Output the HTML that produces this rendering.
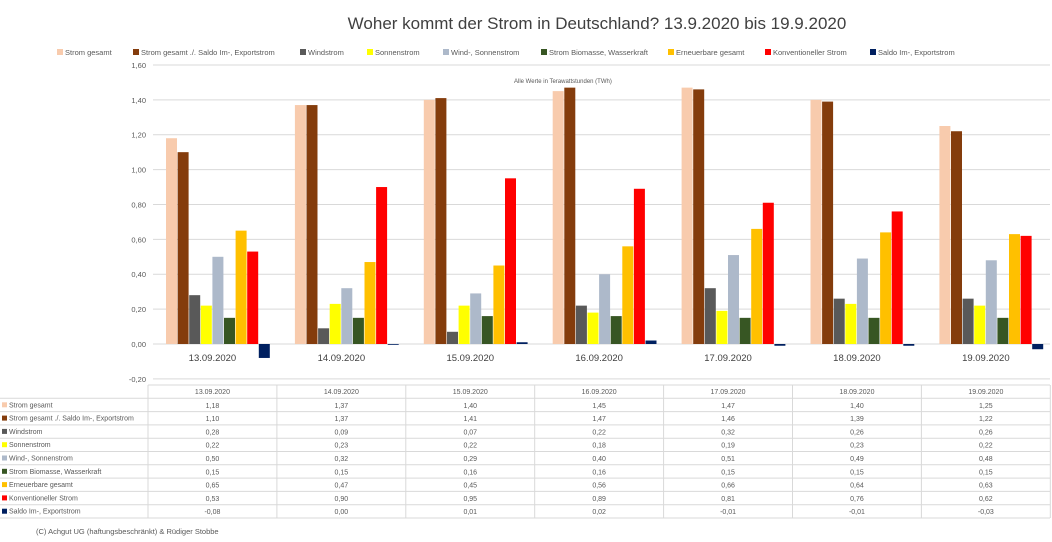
<!DOCTYPE html>
<html><head><meta charset="utf-8"><style>
body{margin:0;background:#fff;}
svg{display:block;font-family:"Liberation Sans",sans-serif;}
</style></head><body>
<svg id="s" width="1052" height="542" xmlns="http://www.w3.org/2000/svg"></svg>
<script>
const names=["Strom gesamt","Strom gesamt ./. Saldo Im-, Exportstrom","Windstrom","Sonnenstrom","Wind-, Sonnenstrom","Strom Biomasse, Wasserkraft","Erneuerbare gesamt","Konventioneller Strom","Saldo Im-, Exportstrom"];
const cols=["#f8cbad","#843c0c","#595959","#ffff00","#adb9ca","#375623","#ffc000","#ff0000","#002060"];
const dates=["13.09.2020","14.09.2020","15.09.2020","16.09.2020","17.09.2020","18.09.2020","19.09.2020"];
const d=[[1.18,1.37,1.40,1.45,1.47,1.40,1.25],[1.10,1.37,1.41,1.47,1.46,1.39,1.22],[0.28,0.09,0.07,0.22,0.32,0.26,0.26],[0.22,0.23,0.22,0.18,0.19,0.23,0.22],[0.50,0.32,0.29,0.40,0.51,0.49,0.48],[0.15,0.15,0.16,0.16,0.15,0.15,0.15],[0.65,0.47,0.45,0.56,0.66,0.64,0.63],[0.53,0.90,0.95,0.89,0.81,0.76,0.62],[-0.08,0.00,0.01,0.02,-0.01,-0.01,-0.03]];
let h='';
h+=`<text x="597" y="29" font-size="17" fill="#404040" text-anchor="middle">Woher kommt der Strom in Deutschland? 13.9.2020 bis 19.9.2020</text>`;
const lx=[57,133,300,367,443,541,668,765,870];
names.forEach((n,i)=>{h+=`<rect x="${lx[i]}" y="49" width="6" height="6" fill="${cols[i]}"/><text x="${lx[i]+8}" y="55" font-size="7.5" fill="#595959">${n}</text>`;});
const Y=v=>344-v*174.4;
for(let k=-1;k<=8;k++){const v=k*0.2,y=Y(v);h+=`<line x1="153" x2="1050" y1="${y}" y2="${y}" stroke="#d9d9d9" stroke-width="1"/><text x="146" y="${y+3}" font-size="7.5" fill="#595959" text-anchor="end">${v.toFixed(2).replace('.',',')}</text>`;}
h+=`<text x="514" y="83" font-size="6" fill="#595959">Alle Werte in Terawattstunden (TWh)</text>`;
const cw=128.9,x0=148;
dates.forEach((dt,c)=>{
 for(let i=0;i<9;i++){const v=d[i][c];const x=x0+c*cw+18+i*11.6;const y1=Y(Math.max(v,0)),y2=Y(Math.min(v,0));h+=`<rect x="${x}" y="${y1}" width="11" height="${Math.max(y2-y1,0.8)}" fill="${cols[i]}"/>`;}
 h+=`<text x="${x0+c*cw+cw/2}" y="361" font-size="9.5" fill="#404040" text-anchor="middle">${dt}</text>`;
});
// table
const ty=385,rh=13.3;
h+=`<line x1="148" x2="1050" y1="${ty}" y2="${ty}" stroke="#d9d9d9"/>`;
for(let r=0;r<=10;r++){const y=ty+r*rh;h+=`<line x1="${r==0?148:0}" x2="1050" y1="${y}" y2="${y}" stroke="#d9d9d9"/>`;}
for(let c=0;c<=7;c++){const x=x0+c*cw;h+=`<line x1="${x}" x2="${x}" y1="${ty}" y2="${ty+10*rh}" stroke="#d9d9d9"/>`;}
dates.forEach((dt,c)=>{h+=`<text x="${x0+c*cw+cw/2}" y="${ty+9}" font-size="7" fill="#595959" text-anchor="middle">${dt}</text>`;});
names.forEach((n,i)=>{const y=ty+(i+1)*rh;h+=`<rect x="2" y="${y+4}" width="5" height="5" fill="${cols[i]}"/><text x="9" y="${y+9}" font-size="7" fill="#595959">${n}</text>`;
 d[i].forEach((v,c)=>{h+=`<text x="${x0+c*cw+cw/2}" y="${y+9.5}" font-size="7" fill="#595959" text-anchor="middle">${v.toFixed(2).replace('.',',')}</text>`;});});
h+=`<text x="36" y="534" font-size="7.5" fill="#595959">(C) Achgut UG (haftungsbeschränkt) &amp; Rüdiger Stobbe</text>`;
document.getElementById('s').innerHTML=h;
</script>
</body></html>
